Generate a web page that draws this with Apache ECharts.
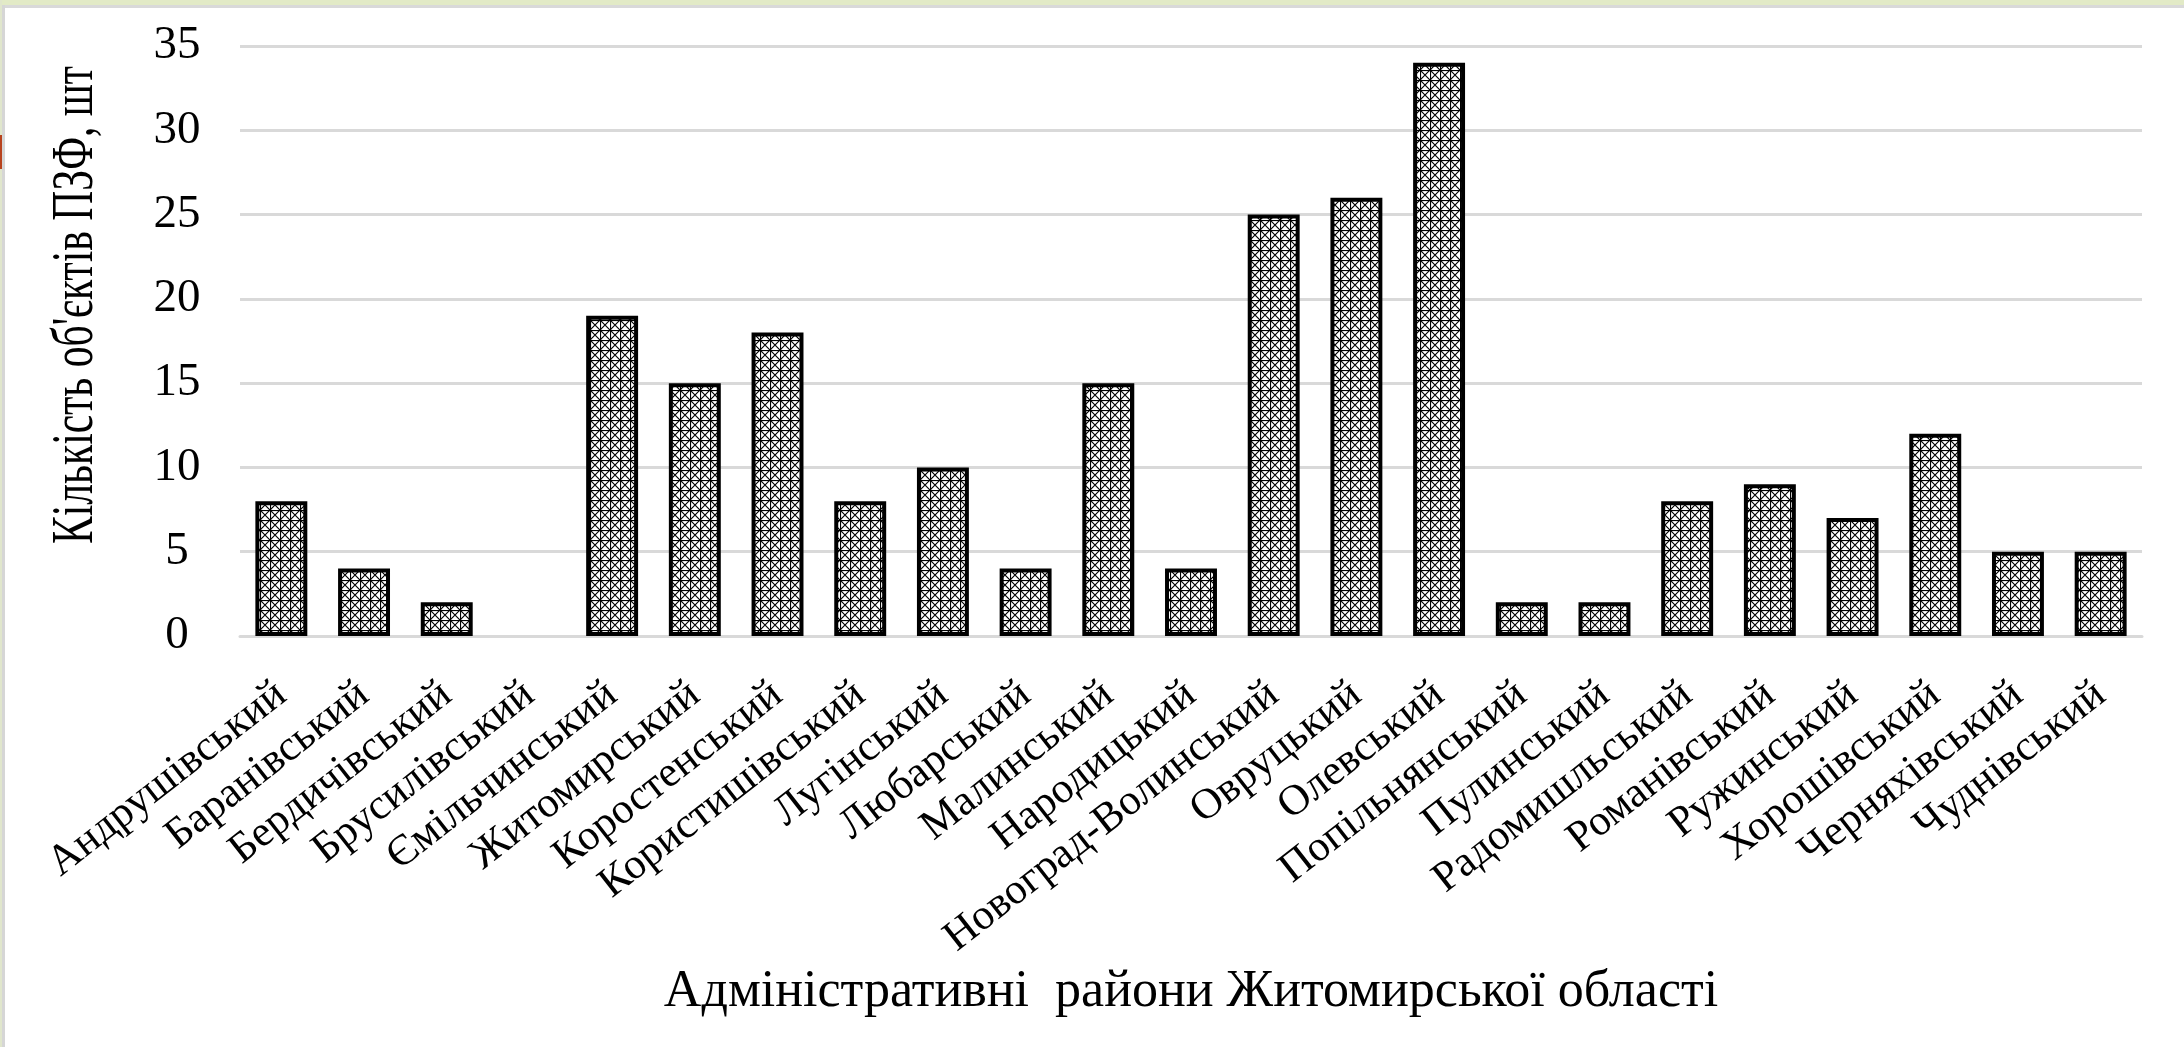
<!DOCTYPE html>
<html>
<head>
<meta charset="utf-8">
<script src="https://cdn.jsdelivr.net/npm/echarts@6/dist/echarts.min.js"></script>
<style>
html,body{margin:0;padding:0;background:#fff;}
#c{width:2184px;height:1047px;}
</style>
</head>
<body>
<div id="c"></div>
<script>
const categories = ["Андрушівський","Баранівський","Бердичівський","Брусилівський","Ємільчинський","Житомирський","Коростенський","Користишівський","Лугінський","Любарський","Малинський","Народицький","Новоград-Волинський","Овруцький","Олевський","Попільнянський","Пулинський","Радомишльський","Романівський","Ружинський","Хорошівський","Черняхівський","Чуднівський"];
const values = [8,4,2,0,19,15,18,8,10,4,15,4,25,26,34,2,2,8,9,7,12,5,5];
const yTickLabels = ["0","5","10","15","20","25","30","35"];
const yTitle = "Кількість об'єктів ПЗФ, шт";
const xTitle = "Адміністративні  райони Житомирської області";

// hatch pattern tile
function makePattern(){
  const s = 10;
  const cv = document.createElement('canvas');
  cv.width = s; cv.height = s;
  const g = cv.getContext('2d');
  g.fillStyle = '#fff'; g.fillRect(0,0,s,s);
  g.strokeStyle = '#000'; g.lineWidth = 1.2;
  g.beginPath();
  g.moveTo(0,0); g.lineTo(s,s);
  g.moveTo(s,0); g.lineTo(0,s);
  g.stroke();
  g.fillStyle = '#000';
  g.fillRect(0,0,s,1.1);
  g.fillRect(0,0,1.1,s);
  return cv;
}
const pattern = makePattern();

function measure(text, font){
  const ctx = document.createElement('canvas').getContext('2d');
  ctx.font = font;
  return ctx.measureText(text).width;
}
const yTitleFont = '60px "Liberation Serif"';
const yTitleScale = 478 / measure(yTitle, yTitleFont);

const barData = values.map(v => v === 0 ? {value: v, itemStyle: {borderWidth: 0}} : v);

const chart = echarts.init(document.getElementById('c'));
chart.setOption({
  backgroundColor: '#fff',
  animation: false,
  grid: {left: 240, right: 42, top: 46, bottom: 411},
  xAxis: {
    type: 'category',
    data: categories,
    axisLine: {show: true, lineStyle: {color: '#d9d9d9', width: 3}},
    axisTick: {show: false},
    axisLabel: {interval: 0, rotate: 38, fontFamily: 'Liberation Serif', fontSize: 43, color: '#000', margin: 54},
    name: xTitle,
    nameLocation: 'middle',
    nameGap: 314,
    nameTextStyle: {fontFamily: 'Liberation Serif', fontSize: 52, color: '#000'}
  },
  yAxis: {
    type: 'value',
    min: 0, max: 35, interval: 5,
    axisLine: {show: false},
    axisTick: {show: false},
    splitLine: {lineStyle: {color: '#d9d9d9', width: 3}},
    axisLabel: {fontFamily: 'Liberation Serif', fontSize: 47, color: '#000', margin: 63, align: 'center',
      formatter: v => yTickLabels[Math.round(v/5)]}
  },
  series: [{
    type: 'bar',
    data: barData,
    barWidth: '62.8%',
    itemStyle: {color: {image: pattern, repeat: 'repeat'}, borderColor: '#000', borderWidth: 4}
  }],
  graphic: [
    {type: 'rect', left: 0, top: 0, shape: {width: 2184, height: 5}, style: {fill: '#e2eac6'}, silent: true},
    {type: 'rect', left: 0, top: 5, shape: {width: 2184, height: 3}, style: {fill: '#d9d9d9'}, silent: true},
    {type: 'rect', left: 0, top: 0, shape: {width: 2, height: 1047}, style: {fill: '#e0e6cc'}, silent: true},
    {type: 'rect', left: 2, top: 5, shape: {width: 3, height: 1042}, style: {fill: '#d6d6d6'}, silent: true},
    {type: 'rect', left: 0, top: 135, shape: {width: 2, height: 34}, style: {fill: '#b8431e'}, silent: true},
    {type: 'text', x: 76, y: 305, rotation: Math.PI/2, scaleX: yTitleScale, scaleY: 1,
      style: {text: yTitle, font: yTitleFont, fill: '#000', align: 'center', verticalAlign: 'middle'}}
  ]
});
</script>
</body>
</html>
